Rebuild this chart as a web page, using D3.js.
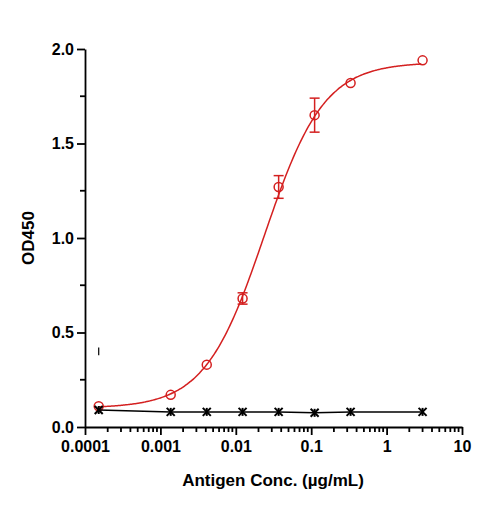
<!DOCTYPE html><html><head><script src="https://cdn.jsdelivr.net/npm/d3@7"></script>
<style>body{margin:0;background:#fff}text{font-family:Arial,"Liberation Sans",sans-serif;font-weight:bold}</style></head><body><svg id="c" width="485" height="508"></svg>
<script>
const conc=[0.000152,0.00137,0.00412,0.0123,0.037,0.111,0.333,3];
const odRed=[0.11,0.17,0.33,0.68,1.27,1.65,1.82,1.94];
const errRed=[0.01,0.01,0.01,0.03,0.06,0.09,0.01,0.01];
const odBlack=[0.09,0.08,0.08,0.08,0.08,0.075,0.08,0.08];
const fit={bottom:0.10,top:1.93,ec50:0.024,hill:1.1};
const xTicks=[0.0001,0.001,0.01,0.1,1,10];
const xTickLabels=["0.0001","0.001","0.01","0.1","1","10"];
const yTicks=[0,0.5,1,1.5,2];
const svg=d3.select("#c");
const x=d3.scaleLog().domain([0.0001,10]).range([85,462]);
const y=d3.scaleLinear().domain([0,2]).range([427,49]);
const gx=svg.append("g").attr("transform","translate(0,427)");
gx.call(d3.axisBottom(x).tickValues(xTicks).tickFormat((d,i)=>xTickLabels[i]).tickSize(8).tickSizeOuter(0));
const minor=[];for(let e=-4;e<1;e++)for(let k=2;k<10;k++)minor.push(k*Math.pow(10,e));
gx.selectAll(".mn").data(minor).enter().append("line").attr("x1",d=>x(d)).attr("x2",d=>x(d)).attr("y1",0).attr("y2",5).attr("stroke","#000").attr("stroke-width",1.5);
const gy=svg.append("g").attr("transform","translate(85,0)");
gy.call(d3.axisLeft(y).tickValues(yTicks).tickFormat(d3.format(".1f")).tickSize(8).tickSizeOuter(0));
gy.selectAll(".mn").data([0.25,0.75,1.25,1.75]).enter().append("line").attr("x1",0).attr("x2",-5).attr("y1",d=>y(d)).attr("y2",d=>y(d)).attr("stroke","#000").attr("stroke-width",1.5);
[gx,gy].forEach(g=>{g.selectAll("path,line").attr("stroke","#000").attr("stroke-width",1.8);g.selectAll("text").attr("font-size",16).attr("font-weight","bold").attr("fill","#000");});
gx.selectAll(".tick text").attr("dy","0.9em");
svg.append("text").attr("x",273).attr("y",486).attr("text-anchor","middle").attr("font-size",17).text("Antigen Conc. (µg/mL)");
svg.append("text").attr("transform","translate(34,238) rotate(-90)").attr("text-anchor","middle").attr("font-size",17).text("OD450");
const xs=d3.range(-3.82,0.48,0.02).map(v=>Math.pow(10,v));
const f=c=>fit.bottom+(fit.top-fit.bottom)/(1+Math.pow(fit.ec50/c,fit.hill));
svg.append("path").attr("d",d3.line().x(d=>x(d)).y(d=>y(f(d))).curve(d3.curveBasis)(xs)).attr("fill","none").attr("stroke","#d42020").attr("stroke-width",1.5);
conc.forEach((c,i)=>{if(errRed[i]>0.02){const g=svg.append("g").attr("stroke","#d42020").attr("stroke-width",1.5);
g.append("line").attr("x1",x(c)).attr("x2",x(c)).attr("y1",y(odRed[i]-errRed[i])).attr("y2",y(odRed[i]+errRed[i]));
[odRed[i]-errRed[i],odRed[i]+errRed[i]].forEach(v=>g.append("line").attr("x1",x(c)-5).attr("x2",x(c)+5).attr("y1",y(v)).attr("y2",y(v)));}});
svg.selectAll(".pt").data(conc).enter().append("circle").attr("cx",d=>x(d)).attr("cy",(d,i)=>y(odRed[i])).attr("r",4.5).attr("fill","none").attr("stroke","#d42020").attr("stroke-width",1.5);
svg.append("path").attr("d",d3.line().x(d=>x(d)).y((d,i)=>y(odBlack[i]))(conc)).attr("fill","none").attr("stroke","#000").attr("stroke-width",1.5);
conc.forEach((c,i)=>{const cx=x(c),cy=y(odBlack[i]),s=4;const g=svg.append("g").attr("stroke","#000").attr("stroke-width",2);
g.append("line").attr("x1",cx-s).attr("x2",cx+s).attr("y1",cy-s).attr("y2",cy+s);
g.append("line").attr("x1",cx-s).attr("x2",cx+s).attr("y1",cy+s).attr("y2",cy-s);
g.append("line").attr("x1",cx).attr("x2",cx).attr("y1",cy-s).attr("y2",cy+s);});
svg.append("line").attr("x1",x(conc[0])).attr("x2",x(conc[0])).attr("y1",y(0.42)).attr("y2",y(0.38)).attr("stroke","#000").attr("stroke-width",1.2);
</script></body></html>
